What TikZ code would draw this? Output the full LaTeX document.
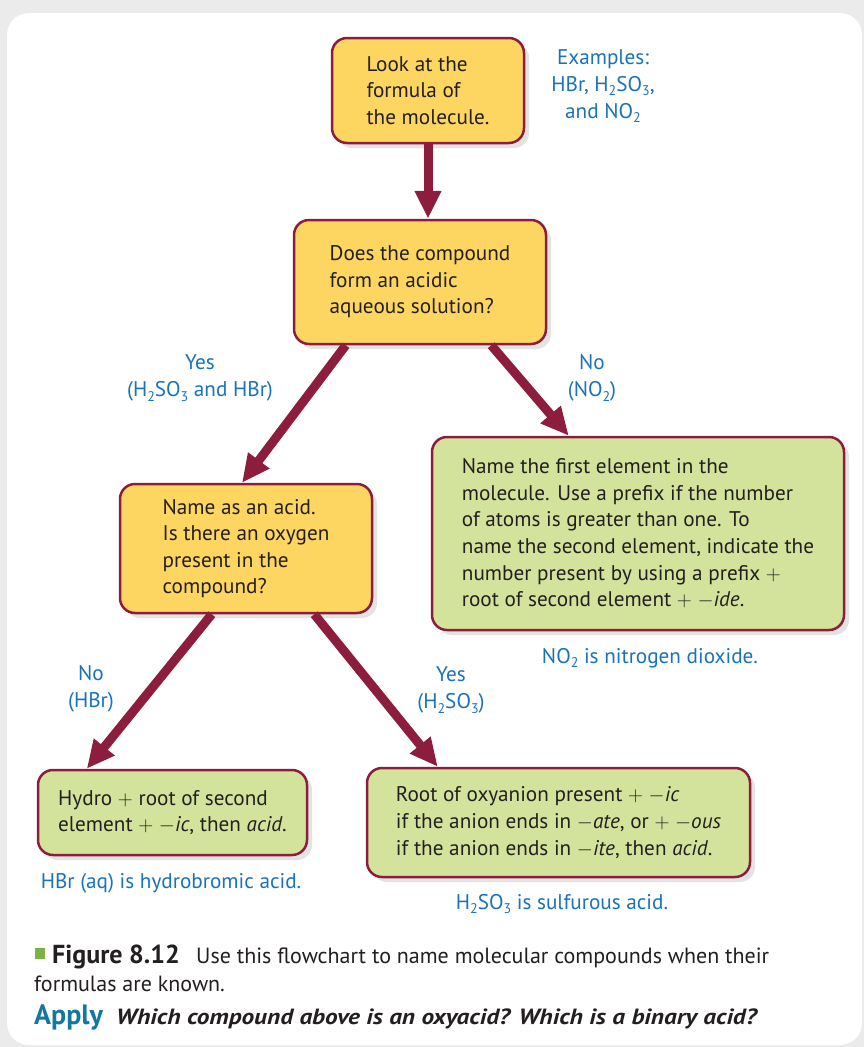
\documentclass[tikz,border=0pt]{standalone}
\usepackage{fontspec}
\setmainfont{PT Sans}
\newfontfamily\askfont[FakeStretch=1.15]{PT Sans}
\usetikzlibrary{arrows.meta}
\usetikzlibrary{shadows}
\definecolor{boxyellow}{HTML}{FDD561}
\definecolor{boxgreen}{HTML}{D4E39C}
\definecolor{rim}{HTML}{8C1D3C}
\definecolor{labelblue}{HTML}{1A73BA}
\definecolor{applyteal}{HTML}{14779E}
\definecolor{capgreen}{HTML}{7BB342}
\definecolor{capgray}{HTML}{231F20}
\definecolor{pagegray}{HTML}{EBEBEB}
\newcommand{\chsub}[1]{\raisebox{-0.45ex}{\fontsize{14}{14}\selectfont #1}}
\newcommand{\ital}[1]{\textit{#1}}

\begin{document}
\begin{tikzpicture}[x=1pt,y=-1pt,
  qbox/.style={draw=rim, line width=2.5pt, rounded corners=15pt, align=left, inner sep=0pt,
    text=capgray, font=\fontsize{21.2}{26.6}\selectfont,
    drop shadow={shadow xshift=5pt, shadow yshift=-5pt, opacity=0.18, fill=black!60}},
  askbox/.style={qbox, fill=boxyellow},
  namebox/.style={qbox, fill=boxgreen},
  note/.style={text=labelblue, align=center, inner sep=0pt, font=\fontsize{21.2}{27}\selectfont},
  flow/.style={draw=rim, line width=9pt, -{Triangle[length=28pt,width=25pt]}},
  caption/.style={anchor=base west, inner sep=0pt, text=capgray}]
\useasboundingbox (0,0) rectangle (864,1047);
\fill[pagegray] (0,0) rectangle (864,1047); % page
\fill[white, rounded corners=22pt] (7,13) rectangle (862,1045); % panel

% question boxes
\node[askbox, minimum width=192pt, minimum height=105pt] (look) at (428,90.5) {Look at the\\formula of\\the molecule.};
\node[askbox, minimum width=252pt, minimum height=124pt] (acidic) at (420,282) {Does the compound\\form an acidic\\aqueous solution?};
\node[askbox, minimum width=252pt, minimum height=129pt] (acid) at (246,548.5) {Name as an acid.\\Is there an oxygen\\present in the\\compound?};

% naming boxes
\node[namebox, minimum width=412pt, minimum height=193pt] (covalent) at (638,533.5) {Name the first element in the\\molecule. Use a prefix if the number\\of atoms is greater than one. To\\name the second element, indicate the\\number present by using a prefix $+$\\root of second element $+$ $-$\ital{ide}.};
\node[namebox, minimum width=269pt, minimum height=85pt] (binary) at (172.5,812.5) {Hydro $+$ root of second\\element $+$ $-$\ital{ic}, then \ital{acid}.};
\node[namebox, minimum width=383pt, minimum height=109pt] (oxyacid) at (558.5,822.5) {Root of oxyanion present $+$ $-$\ital{ic}\\if the anion ends in $-$\ital{ate}, or $+$ $-$\ital{ous}\\if the anion ends in $-$\ital{ite}, then \ital{acid}.};

% blue notes
\node[note] (examples) at (603,86) {Examples:\\HBr, H\chsub{2}SO\chsub{3},\\and NO\chsub{2}};
\node[note] (yesacid) at (200,378) {Yes\\(H\chsub{2}SO\chsub{3} and HBr)};
\node[note] (noacid) at (592,378) {No\\(NO\chsub{2})};
\node[note] (nooxygen) at (91,689) {No\\(HBr)};
\node[note] (yesoxygen) at (451,690) {Yes\\(H\chsub{2}SO\chsub{3})};
\node[note] (dioxide) at (650,658) {NO\chsub{2} is nitrogen dioxide.};
\node[note] (hydrobromic) at (171,883) {HBr (aq) is hydrobromic acid.};
\node[note] (sulfurous) at (562,904) {H\chsub{2}SO\chsub{3} is sulfurous acid.};

% arrows
\draw[flow] (look.south) -- (look.south |- acidic.north);
\draw[flow] ([xshift=53pt]acidic.south west) -- ([xshift=-4pt]acid.north); % yes
\draw[flow] ([xshift=-56pt]acidic.south east) -- ([xshift=138pt]covalent.north west); % no
\draw[flow] ([xshift=93pt]acid.south west) -- ([xshift=50pt]binary.north west); % no oxygen
\draw[flow] ([xshift=-59pt]acid.south east) -- ([xshift=72pt]oxyacid.north west); % oxygen

% caption
\fill[capgreen] (35,948) rectangle (45,959);
\node[caption, font=\fontsize{26}{28}\selectfont\bfseries] (figlabel) at (52,963) {Figure 8.12};
\node[caption, font=\fontsize{22}{24}\selectfont] (figtext) at (196,963) {Use this flowchart to name molecular compounds when their};
\node[caption, font=\fontsize{22}{24}\selectfont] (figtext2) at (34,991) {formulas are known.};
\node[caption, text=applyteal, font=\fontsize{28}{30}\selectfont\bfseries] (apply) at (34,1024) {Apply};
\node[caption, font=\fontsize{22}{24}\selectfont\askfont\bfseries\itshape] (question) at (116,1024) {Which compound above is an oxyacid? Which is a binary acid?};
\end{tikzpicture}
\end{document}
